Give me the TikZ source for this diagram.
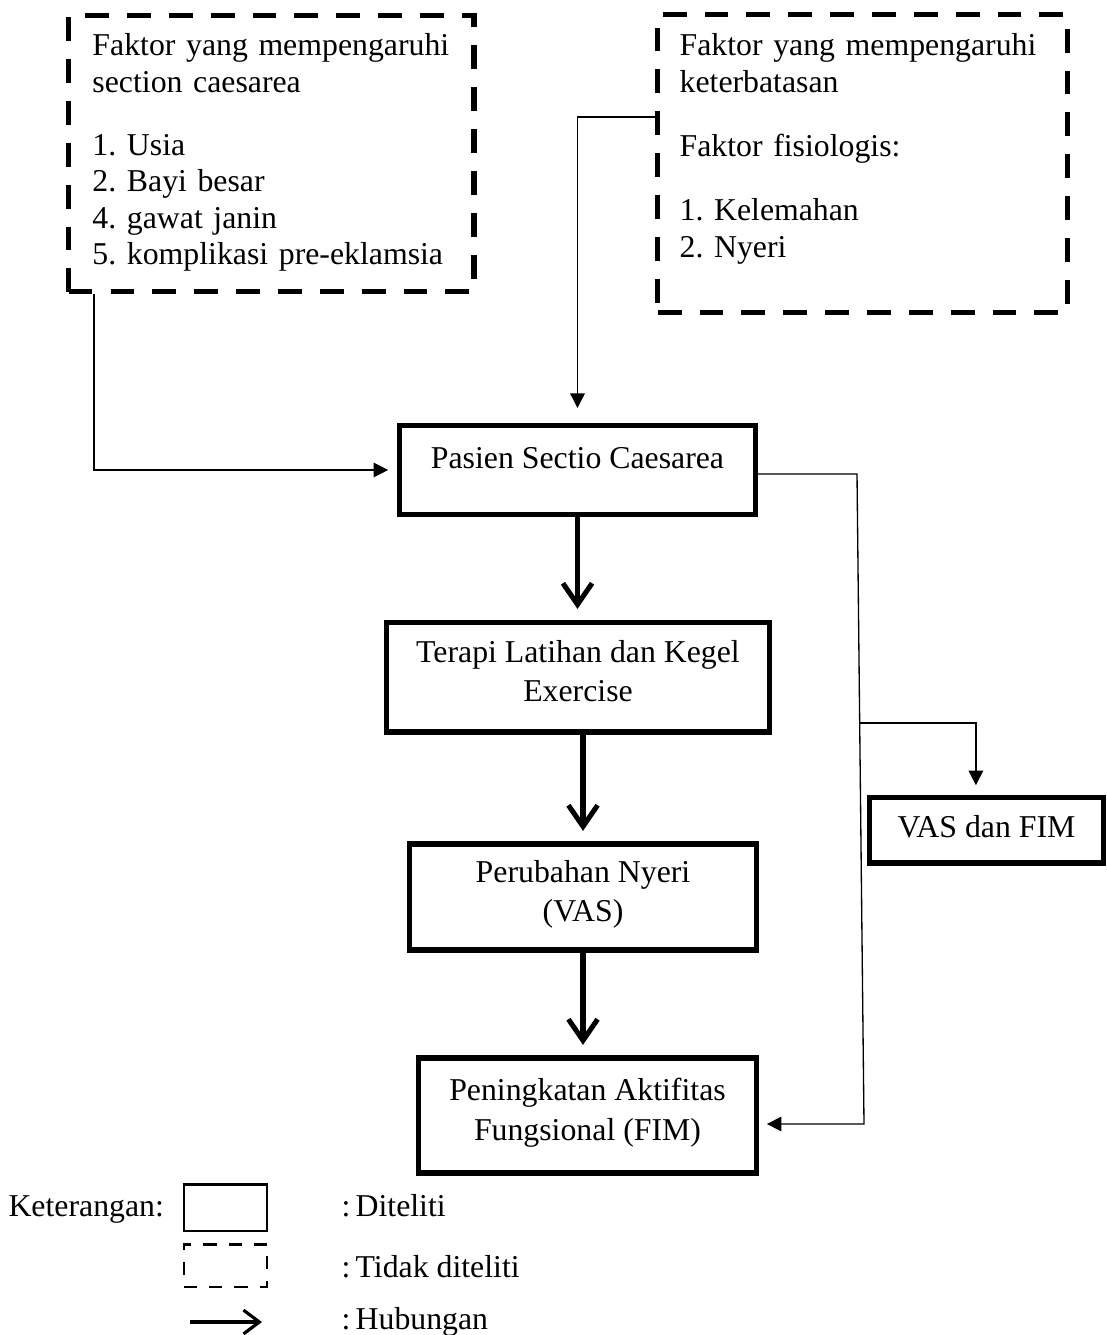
\documentclass[tikz,border=0pt]{standalone}
\usepackage{fontspec}
\setmainfont{Liberation Serif}
\frenchspacing
\usetikzlibrary{arrows.meta}

\tikzset{
    diteliti/.style={draw, line width=1.9pt, align=center, inner sep=0pt,
        font=\fontsize{12}{15}\selectfont,
        execute at begin node=\strut, execute at end node=\strut},
    tidakditeliti/.style={draw, line width=2pt, dash pattern=on 9pt off 6.8pt,
        anchor=north west, align=left, inner ysep=0pt},
    flow/.style={line width=1.9pt, -{Straight Barb[length=8pt,width=11pt]}, shorten >=4pt},
    link/.style={line width=0.5pt, -{Triangle[length=5.5pt,width=5.5pt]}, shorten >=3.5pt},
    ket/.style={inner sep=0pt, anchor=base west, font=\fontsize{12}{14}\selectfont}
}

\begin{document}
\begin{tikzpicture}[x=0.3774pt,y=-0.3774pt]
            \useasboundingbox (0,0) rectangle (1106,1335);

            % faktor yang tidak diteliti
            \node[tidakditeliti, inner xsep=9pt, text width=135pt,
                text height=15.1pt, text depth=89.1pt,
                font=\fontsize{12}{13.8}\selectfont]
                (faktorsc) at (66,13)
                {Faktor yang mempengaruhi\\ section caesarea\\[10pt]
                 1. Usia\\ 2. Bayi besar\\ 4. gawat janin\\ 5. komplikasi pre-eklamsia};
            \node[tidakditeliti, inner xsep=8.3pt, text width=138pt,
                text height=15.5pt, text depth=97pt,
                font=\fontsize{12}{14}\selectfont]
                (faktorket) at (655,12)
                {Faktor yang mempengaruhi\\ keterbatasan\\[10pt]
                 Faktor fisiologis:\\[10pt] 1. Kelemahan\\ 2. Nyeri};

            % yang diteliti
            \node[diteliti, minimum width=134pt, text height=16.2pt, text depth=17.7pt]
                (pasien) at (577.5,470) {Pasien Sectio Caesarea};
            \node[diteliti, minimum width=144.2pt, minimum height=41.5pt]
                (terapi) at (578,677) {Terapi Latihan dan Kegel\\ Exercise};
            \node[diteliti, minimum width=130.6pt, minimum height=40pt]
                (perubahan) at (583,897) {Perubahan Nyeri\\ (VAS)};
            \node[diteliti, minimum width=127.9pt, minimum height=43.4pt]
                (peningkatan) at (587.5,1115.5) {Peningkatan Aktifitas\\ Fungsional (FIM)};
            \node[diteliti, minimum width=88.3pt, minimum height=24.9pt]
                (vas) at (986.5,830) {VAS dan FIM};

            \draw[flow] (pasien.south) -- (pasien.south |- terapi.north);
            \draw[flow] (perubahan.north |- terapi.south) -- (perubahan.north);
            \draw[flow] (perubahan.south) -- (perubahan.south |- peningkatan.north);

            \coordinate (belokA) at (857,474);
            \coordinate (belokB) at (864,1124);
            \coordinate (cabang) at (860,723);

            \draw[link] (faktorsc.south west) ++(28,0) |- (pasien.west);
            \draw[link, shorten >=5.5pt] (faktorket.north west) ++(0,105) -| (pasien.north);
            \draw[link, shorten >=2.8pt] (pasien.east |- belokA) -- (belokA) -- (belokB)
                -- (peningkatan.east |- belokB);
            \draw[link] (cabang) -| ([xshift=-4pt]vas.north);

            % keterangan
            \node[ket] (keterangan) at (8,1216) {Keterangan:};
            \node[draw, line width=1.1pt, minimum width=31.3pt, minimum height=17.7pt]
                (kotakditeliti) at (225.5,1207.5) {};
            \node[draw, line width=1.1pt, dash pattern=on 5pt off 4.5pt,
                minimum width=31.3pt, minimum height=16.2pt]
                (kotaktidak) at (225.5,1265.5) {};
            \coordinate (panahA) at (190,1322);
            \coordinate (panahB) at (262,1322);
            \draw[line width=1.2pt, -{Straight Barb[length=6pt,width=9pt]}] (panahA) -- (panahB);

            \node[ket] (ketditeliti) at (341,1216) {:\hspace{2pt}Diteliti};
            \node[ket] (kettidak) at (341,1277) {:\hspace{2pt}Tidak diteliti};
            \node[ket] (kethubungan) at (341,1329) {:\hspace{2pt}Hubungan};
\end{tikzpicture}
\end{document}
